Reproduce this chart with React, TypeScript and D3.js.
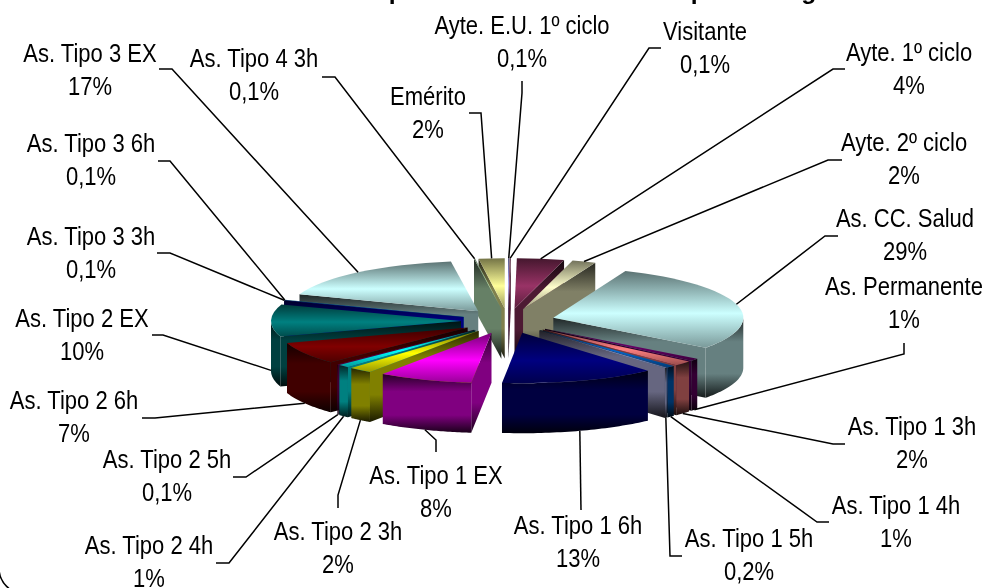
import * as d3 from "d3";
import React from "react";

const categories = ["Ayte. E.U. 1º ciclo", "Visitante", "Ayte. 1º ciclo", "Ayte. 2º ciclo", "As. CC. Salud", "As. Permanente", "As. Tipo 1 3h", "As. Tipo 1 4h", "As. Tipo 1 5h", "As. Tipo 1 6h", "As. Tipo 1 EX", "As. Tipo 2 3h", "As. Tipo 2 4h", "As. Tipo 2 5h", "As. Tipo 2 6h", "As. Tipo 2 EX", "As. Tipo 3 3h", "As. Tipo 3 6h", "As. Tipo 3 EX", "As. Tipo 4 3h", "Emérito"];
const percentLabels = ["0,1%", "0,1%", "4%", "2%", "29%", "1%", "2%", "1%", "0,2%", "13%", "8%", "2%", "1%", "0,1%", "7%", "10%", "0,1%", "0,1%", "17%", "0,1%", "2%"];
// shares, they round to the printed labels
const values = [0.1, 0.1, 4, 2, 29, 0.8, 1.6, 0.7, 0.2, 13.2, 8, 2, 1, 0.1, 7.2, 10.3, 0.1, 0.1, 17.2, 0.1, 2.2];
const colors = ["#9999FF", "#993366", "#993366", "#FFFFCC", "#CCFFFF", "#660066", "#FF8080", "#0066CC", "#CCCCFF", "#000080", "#FF00FF", "#FFFF00", "#00FFFF", "#800080", "#800000", "#008080", "#0000FF", "#00CCFF", "#CCFFFF", "#CCFFCC", "#FFFF99"];

// label layout: centre x, first baseline, then the bent leader points
const labelX = [522, 705, 909, 904, 905, 904, 912, 896, 749, 578, 436, 338, 149, 167, 74, 82, 91, 91, 90, 254, 428];
const labelY = [34, 40, 61, 151, 227, 295, 435, 514, 547, 534, 484, 540, 554, 468, 409, 327, 245, 152, 62, 67, 105];
const elbows: number[][][] = [
  [[522, 81], [522, 93]],
  [[661, 48], [649, 48]],
  [[845, 69], [833, 69]],
  [[842, 160], [828, 160]],
  [[838, 236], [825, 236]],
  [[904, 343], [904, 354]],
  [[845, 444], [833, 444]],
  [[829, 522], [817, 522]],
  [[682, 556], [670, 556]],
  [[581, 510]],
  [[436, 452], [436, 440]],
  [[338, 508], [338, 495]],
  [[216, 563], [229, 563]],
  [[233, 477], [246, 477]],
  [[142, 418], [155, 418]],
  [[152, 335], [163, 335]],
  [[157, 253], [170, 253]],
  [[158, 161], [170, 161]],
  [[159, 69], [172, 69]],
  [[322, 77], [335, 77]],
  [[469, 113], [481, 113]],
];

const cx = 508;
const cy = 321;
const R = 190;
const squash = 0.265;
const explode = 47;
const depth = 50;

const arcs = d3.pie<number>().sort(null).startAngle(0).endAngle(2 * Math.PI)(values);
const topArc = d3.arc<d3.PieArcDatum<number>>().innerRadius(0).outerRadius(R);
const line = d3.line();

const project = (a: number, r: number, ox = 0, oy = 0): [number, number] => [
  ox + r * Math.sin(a),
  oy - r * squash * Math.cos(a),
];

const shade = (c: string, k: number) => {
  const rgb = d3.rgb(c);
  return d3.rgb(rgb.r * k, rgb.g * k, rgb.b * k).formatHex();
};

const topStops: [number, number][] = [[0, 0.45], [0.55, 1], [1, 0.6]];
const sideStops: [number, number][] = [[0, 0.15], [0.3, 0.5], [0.7, 0.5], [1, 0.1]];

const Gradient = ({ id, color, stops }: { id: string; color: string; stops: [number, number][] }) => (
  <linearGradient id={id} x1="0" y1="0" x2="0" y2="1">
    {stops.map(([o, k]) => (
      <stop key={o} offset={o} stopColor={shade(color, k)} />
    ))}
  </linearGradient>
);

export default function App() {
  const order = arcs
    .map((d, i) => ({ d, i, mid: (d.startAngle + d.endAngle) / 2 }))
    .sort((a, b) => Math.abs(b.mid - Math.PI) - Math.abs(a.mid - Math.PI));

  return (
    <svg width={986} height={588} style={{ position: "fixed", left: 0, top: 0 }} fontFamily="'Liberation Sans', Arial, sans-serif">
      <defs>
        {colors.map((c, i) => (
          <React.Fragment key={i}>
            <Gradient id={`top${i}`} color={c} stops={topStops} />
            <Gradient id={`side${i}`} color={c} stops={sideStops} />
          </React.Fragment>
        ))}
      </defs>
      <rect x={-1} y={-100} width={1100} height={694} rx={26} fill="none" stroke="#000" strokeWidth={1.5} />
      <text transform="translate(334,-1)" fontSize={24.6} fontWeight="bold">Composición del Profesorado por <tspan dx={15}>categoría</tspan></text>

      {order.map(({ d, i, mid }) => {
        const ox = cx + explode * Math.sin(mid);
        const oy = cy - explode * squash * Math.cos(mid);
        const a0 = d.startAngle;
        const a1 = d.endAngle;
        const face = (a: number) => {
          const p = project(a, R, ox, oy);
          return line([[ox, oy], p, [p[0], p[1] + depth], [ox, oy + depth]]) + "Z";
        };
        // radial faces only show when they turn towards the viewer
        const showStart = -Math.cos(a0 - Math.PI / 2) > 0;
        const showEnd = -Math.cos(a1 + Math.PI / 2) > 0;
        const w0 = Math.max(a0, Math.PI / 2);
        const w1 = Math.min(a1, (3 * Math.PI) / 2);
        let wall: string | null = null;
        if (w1 > w0) {
          const steps = d3.range(0, 41).map((k) => w0 + ((w1 - w0) * k) / 40);
          const upper = steps.map((a) => project(a, R, ox, oy));
          const lower = upper.map(([x, y]) => [x, y + depth] as [number, number]).reverse();
          wall = line([...upper, ...lower]) + "Z";
        }
        return (
          <g key={i}>
            {showStart && <path d={face(a0)} fill={`url(#side${i})`} />}
            {showEnd && <path d={face(a1)} fill={`url(#side${i})`} />}
            {wall && <path d={wall} fill={`url(#side${i})`} />}
            <path d={topArc(d) as string} transform={`translate(${ox},${oy}) scale(1,${squash})`} fill={`url(#top${i})`} />
          </g>
        );
      })}

      {arcs.map((d, i) => {
        const mid = (d.startAngle + d.endAngle) / 2;
        const front = Math.cos(mid) < 0.02;
        const p = project(mid, R + explode, cx, cy);
        const end: [number, number] = [p[0], p[1] + (front ? depth : 0)];
        return (
          <path key={i} d={line([...(elbows[i] as [number, number][]), end]) as string} fill="none" stroke="#000" strokeWidth={1.5} />
        );
      })}

      {categories.map((c, i) => (
        <g key={c} transform={`translate(${labelX[i]},${labelY[i]}) scale(0.87,1)`} fontSize={25.3} textAnchor="middle" fill="#000">
          <text>{c}</text>
          <text y={33.5}>{percentLabels[i]}</text>
        </g>
      ))}
    </svg>
  );
}
